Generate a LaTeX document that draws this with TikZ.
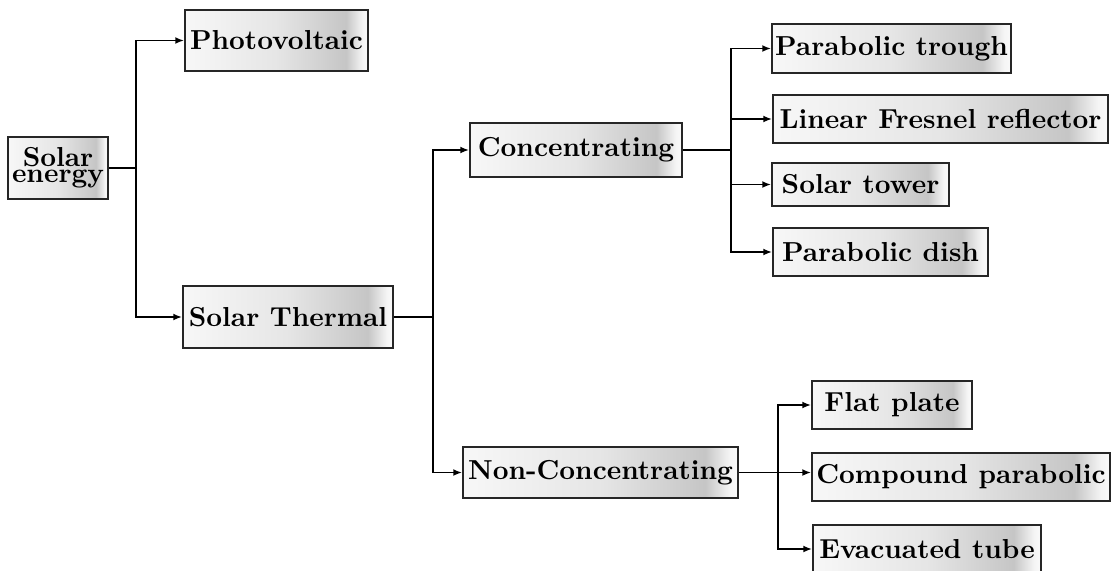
\documentclass[tikz,border=0pt]{standalone}
\usetikzlibrary{arrows.meta,calc}
\pgfdeclarehorizontalshading{boxshade}{100bp}{color(0bp)=(gray!6); color(25bp)=(gray!6); color(50bp)=(gray!20); color(69bp)=(gray!45); color(73.5bp)=(gray!8); color(75bp)=(gray!4); color(100bp)=(gray!4)}
\begin{document}
\begin{tikzpicture}[x=0.3788pt,y=-0.3788pt,
  box/.style={draw=black!85, line width=0.75pt, shade, shading=boxshade, font=\fontsize{10.4}{12}\selectfont\bfseries, inner xsep=1pt, inner ysep=0pt},
  arr/.style={-{Latex[length=3.3pt,width=2.6pt]}, line width=0.6pt},
  ln/.style={line width=0.6pt}]
\useasboundingbox (0,0) rectangle (1111,570);
\clip (0,0) rectangle (1111,570);
\node[box, minimum width={100*0.3788pt}, minimum height={62*0.3788pt}, align=center, font=\fontsize{10.4}{6.2}\selectfont\bfseries] (se) at (58,168) {Solar\\energy};
\node[box, minimum width={183*0.3788pt}, minimum height={61*0.3788pt}] (pv) at (276.5,40.5) {Photovoltaic};
\node[box, minimum width={210*0.3788pt}, minimum height={62*0.3788pt}] (st) at (288,317) {Solar Thermal};
\node[box, minimum width={212*0.3788pt}, minimum height={54*0.3788pt}] (conc) at (576,150) {Concentrating};
\node[box, minimum width={275*0.3788pt}, minimum height={51*0.3788pt}] (nonc) at (600.5,472.5) {Non-Concentrating};
\node[box, minimum width={239*0.3788pt}, minimum height={49*0.3788pt}] (pt) at (891.5,48.5) {Parabolic trough};
\node[box, minimum width={335*0.3788pt}, minimum height={48*0.3788pt}] (lfr) at (940.5,119) {Linear Fresnel reflector};
\node[box, minimum width={177*0.3788pt}, minimum height={43*0.3788pt}] (tow) at (860.5,184.5) {Solar tower};
\node[box, minimum width={215*0.3788pt}, minimum height={48*0.3788pt}] (dish) at (880.5,252) {Parabolic dish};
\node[box, minimum width={160*0.3788pt}, minimum height={48*0.3788pt}] (flat) at (892,405) {Flat plate};
\node[box, minimum width={298*0.3788pt}, minimum height={48*0.3788pt}] (cp) at (961,477) {Compound parabolic};
\node[box, minimum width={228*0.3788pt}, minimum height={48*0.3788pt}] (evac) at (927,549) {Evacuated tube};
% connectors
\draw[ln] (se.east) -- ++(27,0) coordinate (j1);
\draw[arr] (j1) |- (pv.west);
\draw[arr] (j1) |- (st.west);
\draw[ln] (st.east) -- ++(39,0) coordinate (j2);
\draw[arr] (j2) |- (conc.west);
\draw[arr] (j2) |- (nonc.west);
\draw[ln] (conc.east) -- ++(48,0) coordinate (j3);
\draw[arr] (j3) |- (pt.west);
\draw[arr] (j3) |- (lfr.west);
\draw[arr] (j3) |- (tow.west);
\draw[arr] (j3) |- (dish.west);
\draw[arr] (nonc.east) -- (nonc.east -| cp.west);
\coordinate (j4) at ($(nonc.east)+(39,0)$);
\draw[arr] (j4) |- (flat.west);
\draw[arr] (j4) |- (evac.west);
\end{tikzpicture}
\end{document}
